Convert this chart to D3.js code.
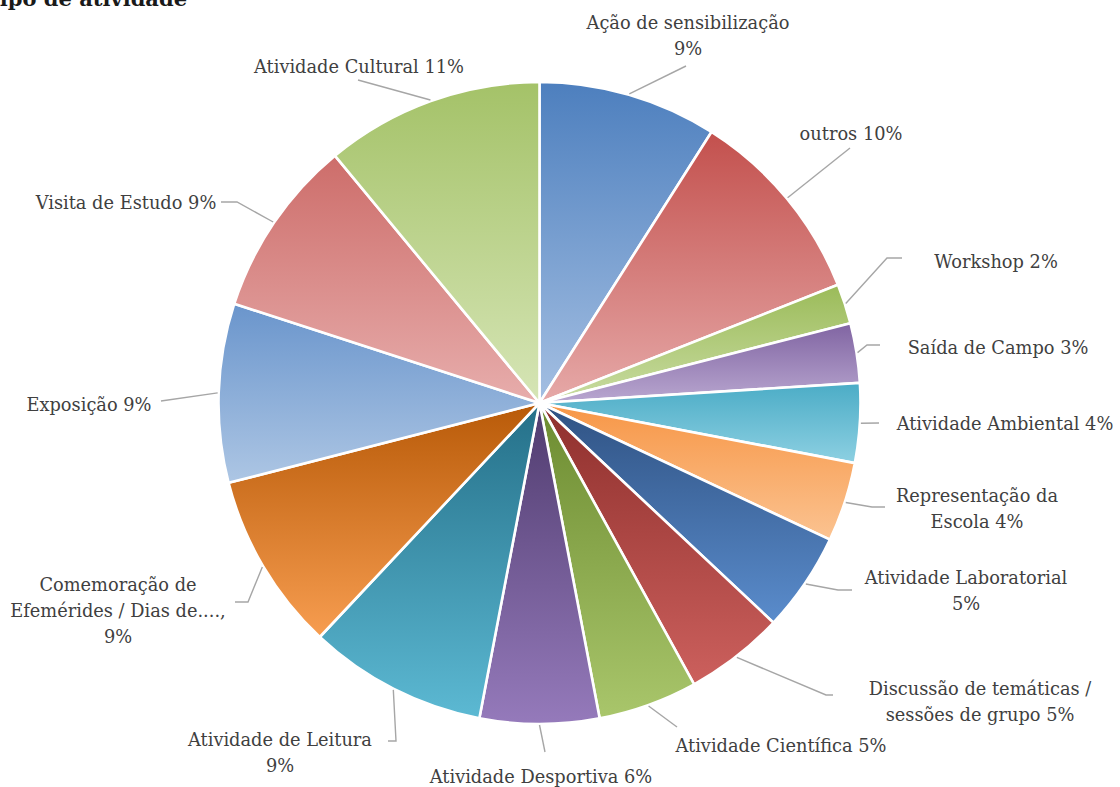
<!DOCTYPE html>
<html>
<head>
<meta charset="utf-8">
<script src="https://cdn.jsdelivr.net/npm/d3@7"></script>
<style>
  html, body { margin: 0; padding: 0; background: #fff; }
  svg { display: block; }
  text { font-family: "DejaVu Serif", "Liberation Serif", serif; }
</style>
</head>
<body>
<svg id="chart" width="1120" height="787"></svg>
<script>
// Activity types and their share (%)
const categories = [
  "Ação de sensibilização", "outros", "Workshop", "Saída de Campo",
  "Atividade Ambiental", "Representação da Escola", "Atividade Laboratorial",
  "Discussão de temáticas / sessões de grupo", "Atividade Científica",
  "Atividade Desportiva", "Atividade de Leitura",
  "Comemoração de Efemérides / Dias de....,", "Exposição",
  "Visita de Estudo", "Atividade Cultural"
];
const values = [9, 10, 2, 3, 4, 4, 5, 5, 5, 6, 9, 9, 9, 9, 11];

// Label text, split into lines as displayed
const labelLines = [
  ["Ação de sensibilização", "9%"],
  ["outros 10%"],
  ["Workshop 2%"],
  ["Saída de Campo 3%"],
  ["Atividade Ambiental 4%"],
  ["Representação da", "Escola 4%"],
  ["Atividade Laboratorial", "5%"],
  ["Discussão de temáticas /", "sessões de grupo 5%"],
  ["Atividade Científica 5%"],
  ["Atividade Desportiva 6%"],
  ["Atividade de Leitura", "9%"],
  ["Comemoração de", "Efemérides / Dias de....,", "9%"],
  ["Exposição 9%"],
  ["Visita de Estudo 9%"],
  ["Atividade Cultural 11%"]
];

// Gradient fill per slice: [top colour, bottom colour]
const gradients = [
  ["#4d7fbe", "#a4bfe2"], ["#c3504d", "#e6a9a8"], ["#9bbb59", "#c9dca2"],
  ["#8064a2", "#b9a7d0"], ["#4bacc6", "#8dd0e2"], ["#f79646", "#fbc391"],
  ["#2f5283", "#5a8ccc"], ["#8e2f2c", "#cc605d"], ["#6c8b30", "#a9c66b"],
  ["#4f3b6e", "#957abb"], ["#246f88", "#5cb9d3"], ["#b85a08", "#f79d50"],
  ["#6a95cc", "#adc6e4"], ["#cd6d6a", "#e7adac"], ["#a4c268", "#d6e5b6"]
];

// Label layout: text block centre x, first baseline y, and leader path
// (points from the label side toward the pie)
const labelLayout = [
  { x: 688, y: 29,  leader: [[686, 66]] },
  { x: 851, y: 140, leader: [[850, 148]] },
  { x: 996, y: 268, leader: [[902, 258], [887, 258]] },
  { x: 998, y: 354, leader: [[880, 345], [867, 345]] },
  { x: 1005, y: 430, leader: [[879, 423]] },
  { x: 977, y: 502, leader: [[885, 507], [872, 507]] },
  { x: 966, y: 584, leader: [[852, 590], [838, 590]] },
  { x: 980, y: 695, leader: [[833, 695], [826, 695]] },
  { x: 781, y: 752, leader: [[677, 727]] },
  { x: 541, y: 783, leader: [[545, 752]] },
  { x: 280, y: 746, leader: [[388, 741], [396, 741]] },
  { x: 118, y: 591, leader: [[235, 602], [248, 602]] },
  { x: 89,  y: 411, leader: [[161, 401]] },
  { x: 126, y: 209, leader: [[221, 202], [237, 202]] },
  { x: 359, y: 73,  leader: [[358, 80]] }
];

const svg = d3.select("#chart");
const cx = 539.5, cy = 403, radius = 321;

// Chart title, running off the top-left edge
svg.append("text")
  .attr("x", 187).attr("y", 6)
  .attr("text-anchor", "end")
  .attr("font-size", 21).attr("font-weight", "bold")
  .attr("fill", "#1a1a1a")
  .text("Tipo de atividade");

const defs = svg.append("defs");
gradients.forEach((g, i) => {
  const lg = defs.append("linearGradient")
    .attr("id", "grad" + i)
    .attr("x1", 0).attr("y1", 0).attr("x2", 0).attr("y2", 1);
  lg.append("stop").attr("offset", "0%").attr("stop-color", g[0]);
  lg.append("stop").attr("offset", "100%").attr("stop-color", g[1]);
});

const data = categories.map((c, i) => ({ name: c, value: values[i], idx: i }));

const pie = d3.pie().value(d => d.value).sort(null);
const arcs = pie(data);
const arc = d3.arc().innerRadius(0).outerRadius(radius);

const g = svg.append("g").attr("transform", `translate(${cx},${cy})`);

g.selectAll("path.slice")
  .data(arcs)
  .join("path")
  .attr("class", "slice")
  .attr("d", arc)
  .attr("fill", d => `url(#grad${d.data.idx})`)
  .attr("stroke", "#fff")
  .attr("stroke-width", 2.6)
  .attr("stroke-linejoin", "round");

// Leader lines from slice edge to label
const line = d3.line();
arcs.forEach((a, i) => {
  const mid = (a.startAngle + a.endAngle) / 2;
  const start = [cx + (radius + 1) * Math.sin(mid), cy - (radius + 1) * Math.cos(mid)];
  const pts = labelLayout[i].leader.slice().reverse();
  svg.append("path")
    .attr("d", line([start, ...pts]))
    .attr("fill", "none")
    .attr("stroke", "#a6a6a6")
    .attr("stroke-width", 1.4);
});

// Labels
const lineHeight = 26;
labelLines.forEach((lines, i) => {
  const L = labelLayout[i];
  const t = svg.append("text")
    .attr("text-anchor", "middle")
    .attr("font-size", 17.8)
    .attr("fill", "#404040");
  lines.forEach((s, k) => {
    t.append("tspan").attr("x", L.x).attr("y", L.y + k * lineHeight).text(s);
  });
});
</script>
</body>
</html>
